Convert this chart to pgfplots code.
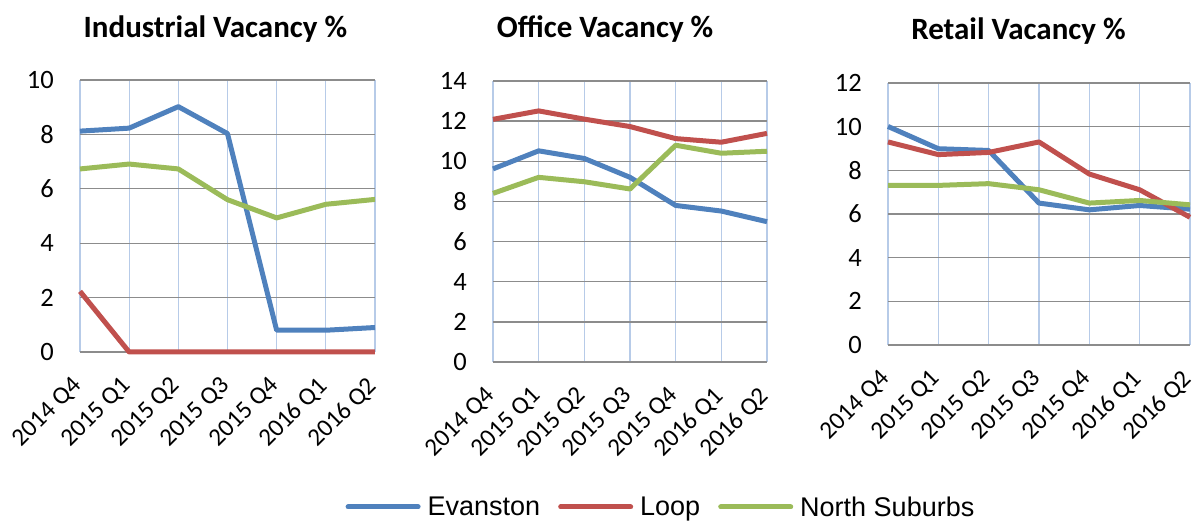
\documentclass[border=0pt]{standalone}
\usepackage{pgfplots}
\pgfplotsset{compat=1.18}
\usepackage{fontspec}
\setmainfont{Carlito}
\newfontfamily\legfont{Liberation Sans}
\definecolor{cEv}{HTML}{4F81BD}
\definecolor{cLp}{HTML}{C0504D}
\definecolor{cNS}{HTML}{9BBB59}
\definecolor{hgrid}{HTML}{8C8C8C}
\definecolor{vgrid}{HTML}{B7CBE8}
\pgfplotsset{
  panel/.style={
    scale only axis,
    xmin=0, xmax=6, ymin=0,
    axis line style={draw=none},
    major tick length=0pt,
    xtick={0,1,2,3,4,5,6},
    xticklabels={2014 Q4,2015 Q1,2015 Q2,2015 Q3,2015 Q4,2016 Q1,2016 Q2},
    xmajorgrids, ymajorgrids,
    x grid style={vgrid, line width=1.3pt},
    y grid style={hgrid, line width=1.3pt},
    yticklabel style={font=\fontsize{26.5}{30}\selectfont},
    xticklabel style={font=\fontsize{25}{30}\selectfont},
    /pgf/number format/assume math mode=true,
    yticklabel style={anchor=east, inner sep=0pt, xshift=-26pt},
    xticklabel style={xshift=-9pt, yshift=-23pt, rotate=45, anchor=north east, inner sep=0pt},
    title style={font=\bfseries\fontsize{31}{36}\selectfont, anchor=base, inner sep=0pt},
    clip=false,
    every axis plot/.append style={line width=5pt, line join=round, no markers},
  }
}
\begin{document}
\begin{tikzpicture}
\path[use as bounding box] (0pt,0pt) rectangle (1197pt,522pt);
% Industrial
\begin{axis}[panel, at={(80pt,170pt)}, anchor=south west,
  width=295pt, height=272pt, ymax=10, ytick={0,2,4,6,8,10},
  title={Industrial Vacancy \%}, title style={at={(0.459,1)}, yshift=36pt}]
\addplot[cEv] coordinates {(0,8.12) (1,8.23) (2,9.02) (3,8.03) (4,0.8) (5,0.8) (6,0.9)};
\addplot[cLp] coordinates {(0,2.23) (1,0) (2,0) (3,0) (4,0) (5,0) (6,0)};
\addplot[cNS] coordinates {(0,6.73) (1,6.91) (2,6.73) (3,5.6) (4,4.93) (5,5.43) (6,5.61)};
\end{axis}
% Office
\begin{axis}[panel, at={(493pt,160pt)}, anchor=south west,
  width=274pt, height=281pt, ymax=14, ytick={0,2,4,6,8,10,12,14},
  title={Office Vacancy \%}, title style={at={(0.409,1)}, yshift=37pt},
  legend columns=3,
  legend style={at={(0.613,-0.516)}, anchor=center, draw=none, fill=none,
    font=\legfont\fontsize{27}{30}\selectfont, inner sep=0pt,
    column sep=5pt,
    /tikz/every even column/.append style={column sep=16pt}},
  legend image code/.code={\draw[#1, line cap=round] (0pt,0pt) -- (70pt,0pt);}]
\addplot[cEv] coordinates {(0,9.62) (1,10.52) (2,10.14) (3,9.2) (4,7.8) (5,7.52) (6,6.99)};
\addlegendentry{Evanston}
\addplot[cLp] coordinates {(0,12.09) (1,12.51) (2,12.1) (3,11.73) (4,11.13) (5,10.95) (6,11.39)};
\addlegendentry{Loop}
\addplot[cNS] coordinates {(0,8.4) (1,9.2) (2,8.98) (3,8.62) (4,10.8) (5,10.4) (6,10.5)};
\addlegendentry{North Suburbs}
\end{axis}
% Retail
\begin{axis}[panel, at={(888pt,177pt)}, anchor=south west,
  width=302pt, height=262pt, ymax=12, ytick={0,2,4,6,8,10,12},
  title={Retail Vacancy \%}, title style={at={(0.432,1)}, yshift=37pt}]
\addplot[cEv] coordinates {(0,10.01) (1,8.99) (2,8.91) (3,6.5) (4,6.19) (5,6.39) (6,6.22)};
\addplot[cLp] coordinates {(0,9.3) (1,8.72) (2,8.82) (3,9.3) (4,7.83) (5,7.11) (6,5.85)};
\addplot[cNS] coordinates {(0,7.31) (1,7.31) (2,7.39) (3,7.11) (4,6.5) (5,6.62) (6,6.42)};
\end{axis}
\end{tikzpicture}
\end{document}
